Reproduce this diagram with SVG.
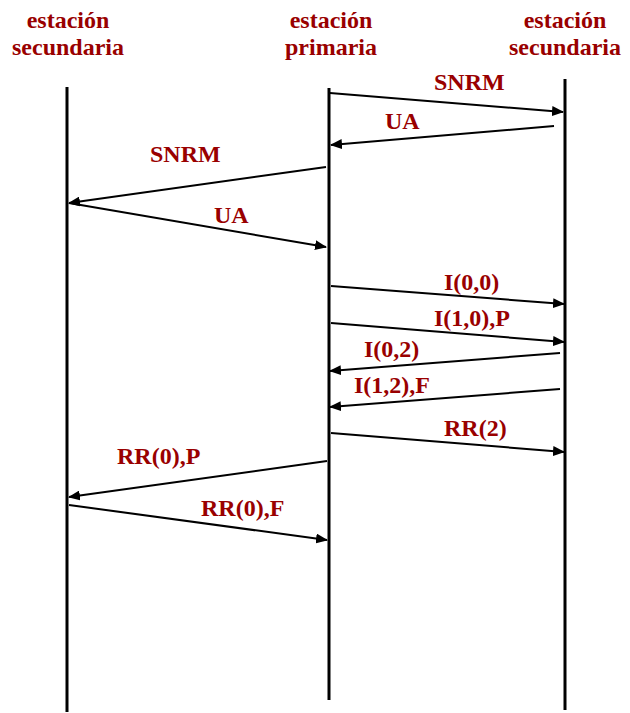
<svg xmlns="http://www.w3.org/2000/svg" width="630" height="713" viewBox="0 0 630 713">
  <style>
    text { font-family: 'Liberation Serif', 'Times New Roman', 'DejaVu Serif', serif; font-weight: bold; font-size: 24px; fill: #990000; }
    .hdr { text-anchor: middle; }
    .life { stroke: #000; stroke-width: 3; }
    .msg { stroke: #000; stroke-width: 2; fill: none; marker-end: url(#arrow); }
  </style>
  <defs>
    <marker id="arrow" markerUnits="userSpaceOnUse" markerWidth="12" markerHeight="10" refX="11" refY="5" orient="auto">
      <path d="M0,0 L12,5 L0,10 Z" fill="#000"/>
    </marker>
  </defs>
  <rect width="630" height="713" fill="#fff"/>

  <g id="sec-left">
    <text class="hdr" x="68" y="28">estación</text>
    <text class="hdr" x="68" y="55">secundaria</text>
    <line class="life" x1="67" y1="87" x2="67" y2="712"/>
  </g>
  <g id="primaria">
    <text class="hdr" x="331" y="28">estación</text>
    <text class="hdr" x="331" y="55">primaria</text>
    <line class="life" x1="329" y1="88" x2="329" y2="700"/>
  </g>
  <g id="sec-right">
    <text class="hdr" x="565" y="28">estación</text>
    <text class="hdr" x="565" y="55">secundaria</text>
    <line class="life" x1="565" y1="79" x2="565" y2="710"/>
  </g>

  <g id="messages">
    <line class="msg" x1="330" y1="93" x2="563" y2="112"/>
    <text x="434" y="90">SNRM</text>

    <line class="msg" x1="554" y1="126" x2="331" y2="145"/>
    <text x="385" y="129">UA</text>

    <line class="msg" x1="326" y1="167" x2="69" y2="203"/>
    <text x="150" y="162">SNRM</text>

    <line class="msg" x1="69" y1="203" x2="326" y2="247"/>
    <text x="214" y="223">UA</text>

    <line class="msg" x1="331" y1="286" x2="564" y2="304"/>
    <text x="444" y="290">I(0,0)</text>

    <line class="msg" x1="331" y1="323" x2="564" y2="342"/>
    <text x="434" y="326">I(1,0),P</text>

    <line class="msg" x1="560" y1="353" x2="330" y2="371"/>
    <text x="364" y="357">I(0,2)</text>

    <line class="msg" x1="560" y1="389" x2="330" y2="407"/>
    <text x="354" y="393">I(1,2),F</text>

    <line class="msg" x1="331" y1="433" x2="564" y2="452"/>
    <text x="444" y="436">RR(2)</text>

    <line class="msg" x1="327" y1="461" x2="69" y2="497"/>
    <text x="117" y="464">RR(0),P</text>

    <line class="msg" x1="69" y1="505" x2="327" y2="540"/>
    <text x="201" y="516">RR(0),F</text>
  </g>
</svg>
